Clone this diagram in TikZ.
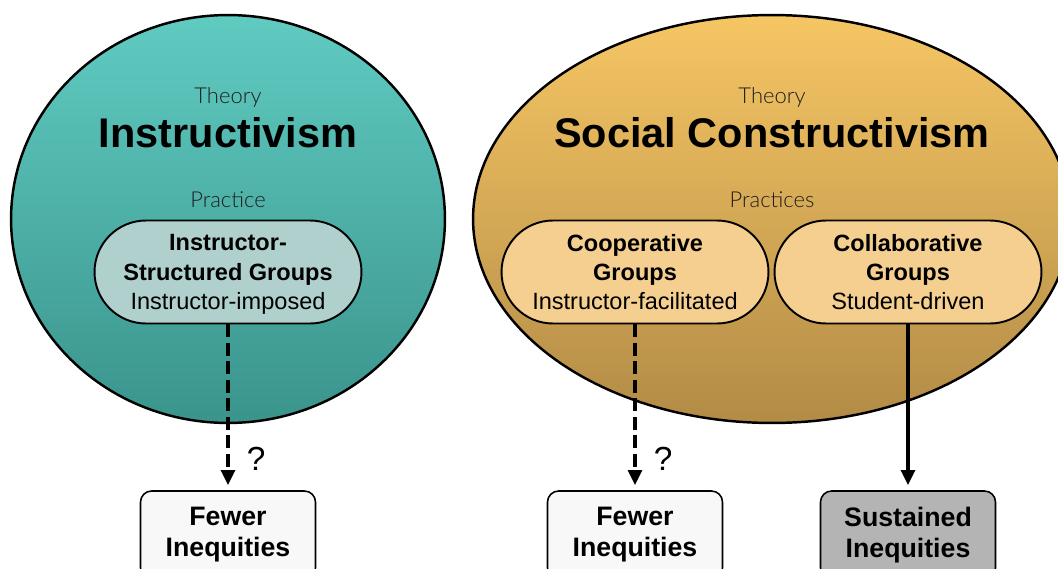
\documentclass[tikz,border=0pt]{standalone}
\usepackage{fontspec}
\setmainfont{Liberation Sans}
\newfontfamily\lightfont{Lato Light}
\usepackage{tikz}
\usetikzlibrary{shapes.geometric, arrows.meta, positioning}
\definecolor{tealtop}{RGB}{96, 203, 193}
\definecolor{tealbottom}{RGB}{58, 148, 140}
\definecolor{tealpill}{RGB}{176, 208, 206}
\definecolor{goldtop}{RGB}{246, 198, 100}
\definecolor{goldbottom}{RGB}{178, 139, 70}
\definecolor{goldpill}{RGB}{244, 207, 144}
\definecolor{boxwhite}{RGB}{248, 248, 248}
\definecolor{boxgray}{RGB}{180, 180, 180}
\definecolor{labelgray}{RGB}{30, 30, 30}

\begin{document}
\begin{tikzpicture}[
        x=0.02cm, y=-0.02cm,
        theory/.style={ellipse, draw=black, line width=1.4pt, minimum height=8.16cm, inner sep=0pt},
        kind/.style={anchor=base, font=\lightfont\fontsize{12.5}{15}\selectfont, text=labelgray},
        bigname/.style={anchor=base, font=\bfseries\fontsize{23.6}{28}\selectfont},
        practice/.style={rectangle, draw=black, line width=1.1pt, rounded corners=1.03cm, minimum width=5.34cm, minimum height=2.06cm, inner sep=0pt, text depth=0pt, align=center, font=\fontsize{13.4}{16.6}\selectfont},
        outcome/.style={rectangle, draw=black, line width=0.9pt, rounded corners=0.22cm, minimum width=3.5cm, minimum height=1.76cm, inner sep=0pt, align=center, font=\bfseries\fontsize{15.2}{17.6}\selectfont},
        arrow/.style={-{Triangle[length=0.3cm, width=0.27cm]}, line width=2.2pt, shorten >=0.1cm},
        maybe/.style={right, pos=0.81, xshift=0.22cm, font=\fontsize{19}{20}\selectfont}
    ]
        \useasboundingbox (0,0) rectangle (1058,568);
        \clip (0,0) rectangle (1058,568);

        % Theories
        \node[theory, minimum width=8.68cm, top color=tealtop, bottom color=tealbottom] (instr) at (228,219) {};
        \node[theory, minimum width=11.96cm, top color=goldtop, bottom color=goldbottom] (social) at (772,219) {};

        % Theory labels
        \node[kind] (theoryA) at (228,103) {Theory};
        \node[bigname] (nameA) at (228,147) {Instructivism};
        \node[kind] (practiceA) at (228,207) {Practice};

        \node[kind] (theoryB) at (772,103) {Theory};
        \node[bigname] (nameB) at (772,147) {Social Constructivism};
        \node[kind] (practiceB) at (772,207) {Practices};

        % Practices
        \node[practice, fill=tealpill] (structured) at (228,272) {\textbf{Instructor-}\\\textbf{Structured Groups}\\Instructor-imposed};
        \node[practice, fill=goldpill] (cooperative) at (635,272) {\textbf{Cooperative}\\\textbf{Groups}\\Instructor-facilitated};
        \node[practice, fill=goldpill] (collaborative) at (908,272) {\textbf{Collaborative}\\\textbf{Groups}\\Student-driven};

        % Outcomes
        \node[outcome, fill=boxwhite] (fewerA) at (228,535) {Fewer\\Inequities};
        \node[outcome, fill=boxwhite] (fewerB) at (635,535) {Fewer\\Inequities};
        \node[outcome, fill=boxgray] (sustained) at (908,535) {Sustained\\Inequities};

        % Connections
        \draw[arrow, dash pattern=on 0.26cm off 0.11cm] (structured) -- node[maybe] {?} (fewerA);
        \draw[arrow, dash pattern=on 0.26cm off 0.11cm] (cooperative) -- node[maybe] {?} (fewerB);
        \draw[arrow] (collaborative) -- (sustained);

    \end{tikzpicture}
\end{document}
